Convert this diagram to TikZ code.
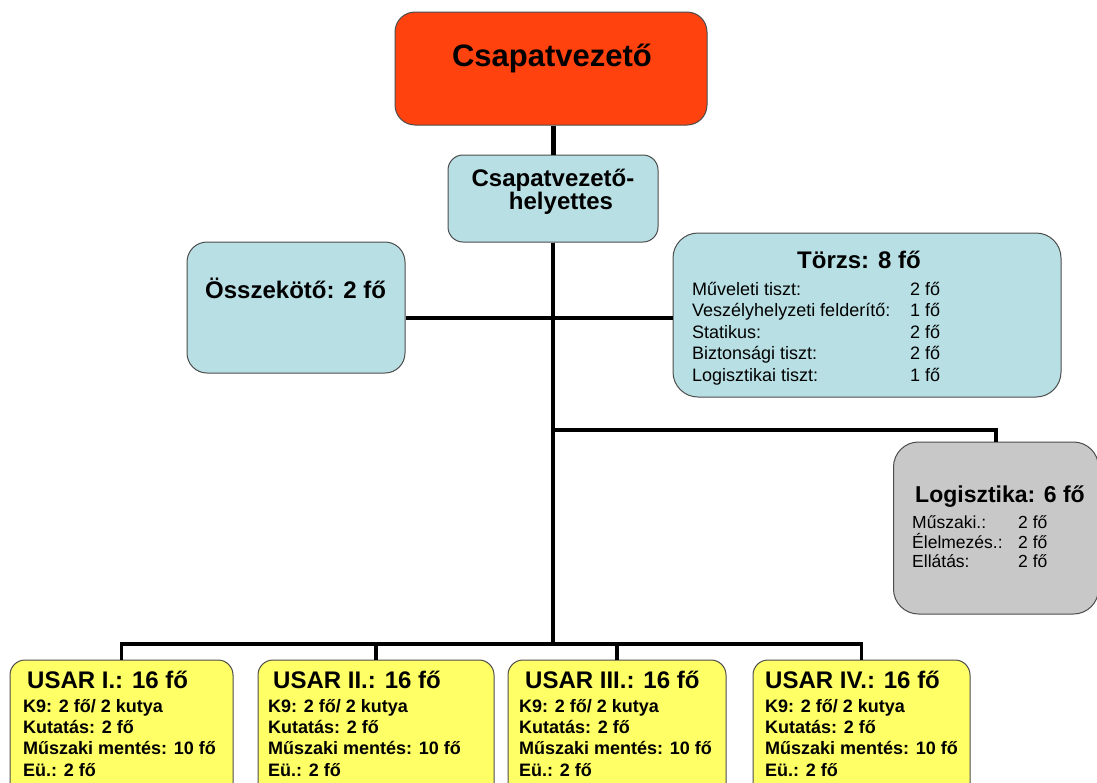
\documentclass[tikz,border=0pt]{standalone}
\usepackage{fontspec}
\setmainfont{Liberation Sans}
\definecolor{redc}{RGB}{255,66,14}
\definecolor{bluec}{RGB}{184,224,228}
\definecolor{greyc}{RGB}{200,200,200}
\definecolor{yelc}{RGB}{255,255,102}
\begin{document}
\begin{tikzpicture}[x=1pt,y=-1pt,
  box/.style={draw=black!70, line width=1pt, inner sep=0pt},
  conn/.style={line width=3.5pt},
  lbl/.style={inner sep=0pt, anchor=base west},
  ctr/.style={inner sep=0pt, anchor=base},
  ttl/.style={font=\fontsize{24}{24}\selectfont\bfseries},
  rowr/.style={font=\fontsize{18}{18}\selectfont},
  rowb/.style={font=\fontsize{18}{18}\selectfont\bfseries},
  rowl/.style={font=\fontsize{17.5}{17.5}\selectfont},
  usar/.style={box, fill=yelc, rounded corners=15pt, minimum height=140pt}]
\useasboundingbox (0,0) rectangle (1097,782);
\clip (0,0) rectangle (1097,782);
% boxes
\node[box, fill=redc, rounded corners=20pt, minimum width=312pt, minimum height=113pt] (cv) at (551,68.5) {};
\node[box, fill=bluec, rounded corners=15pt, minimum width=210pt, minimum height=87pt] (hely) at (553,198.5) {};
\node[box, fill=bluec, rounded corners=20pt, minimum width=218pt, minimum height=131pt] (ossz) at (296,307.5) {};
\node[box, fill=bluec, rounded corners=25pt, minimum width=388pt, minimum height=164pt] (torzs) at (867,315) {};
\node[box, fill=greyc, rounded corners=25pt, minimum width=205pt, minimum height=172pt] (logi) at (996,528) {};
\node[usar, minimum width=223pt] (u1) at (121.5,730) {};
\node[usar, minimum width=236pt] (u2) at (376,730) {};
\node[usar, minimum width=218pt] (u3) at (617,730) {};
\node[usar, minimum width=217pt] (u4) at (861.5,730) {};
% connectors
\coordinate (jA) at (553,318);
\coordinate (jB) at (553,430);
\coordinate (jC) at (553,644);
\draw[line width=5pt] (cv.south -| hely.north) -- (hely.north);
\draw[conn] (hely.south) -- (jC);
\draw[conn] (ossz.east |- jA) -- (torzs.west |- jA);
\draw[conn] (jB) -| (logi.north);
\draw[conn] (u1.north) -- (u1.north |- jC) -- (u4.north |- jC) -- (u4.north);
\draw[conn] (u2.north) -- (u2.north |- jC);
\draw[conn] (u3.north) -- (u3.north |- jC);
% texts
\node[ctr, font=\fontsize{31}{31}\selectfont\bfseries] (cvt) at (552,66) {Csapatvezető};
\node[ctr, ttl] (h1) at (553,186) {Csapatvezető-};
\node[ctr, ttl] (h2) at (561,209) {helyettes};
\node[lbl, ttl] (ot) at (205,298) {Összekötő: 2 fő};
\node[lbl, ttl] (tt) at (797,268) {Törzs: 8 fő};
\node[lbl, rowr] (t1) at (692,295) {Műveleti tiszt:};
\node[lbl, rowr] (t2) at (692,316.5) {Veszélyhelyzeti felderítő:};
\node[lbl, rowr] (t3) at (692,338) {Statikus:};
\node[lbl, rowr] (t4) at (692,359.5) {Biztonsági tiszt:};
\node[lbl, rowr] (t5) at (692,381) {Logisztikai tiszt:};
\node[lbl, rowr] (v1) at (910,295) {2 fő};
\node[lbl, rowr] (v2) at (910,316.5) {1 fő};
\node[lbl, rowr] (v3) at (910,338) {2 fő};
\node[lbl, rowr] (v4) at (910,359.5) {2 fő};
\node[lbl, rowr] (v5) at (910,381) {1 fő};
\node[lbl, font=\fontsize{23}{23}\selectfont\bfseries] (lt) at (915,502) {Logisztika: 6 fő};
\node[lbl, rowl] (l1) at (912,528) {Műszaki.:};
\node[lbl, rowl] (l2) at (912,548) {Élelmezés.:};
\node[lbl, rowl] (l3) at (912,567) {Ellátás:};
\node[lbl, rowl] (m1) at (1018,528) {2 fő};
\node[lbl, rowl] (m2) at (1018,548) {2 fő};
\node[lbl, rowl] (m3) at (1018,567) {2 fő};
% USAR texts
\foreach \n/\tx/\rx/\ttext in {1/27/23/USAR I.: 16 fő, 2/273/268/USAR II.: 16 fő, 3/525/519/USAR III.: 16 fő, 4/765/765/USAR IV.: 16 fő}{
  \node[lbl, ttl] (ut\n) at (\tx,688) {\ttext};
  \node[lbl, rowb] (ua\n) at (\rx,712) {K9: 2 fő/ 2 kutya};
  \node[lbl, rowb] (ub\n) at (\rx,733) {Kutatás: 2 fő};
  \node[lbl, rowb] (uc\n) at (\rx,754) {Műszaki mentés: 10 fő};
  \node[lbl, rowb] (ud\n) at (\rx,776) {Eü.: 2 fő};
}
\end{tikzpicture}
\end{document}
